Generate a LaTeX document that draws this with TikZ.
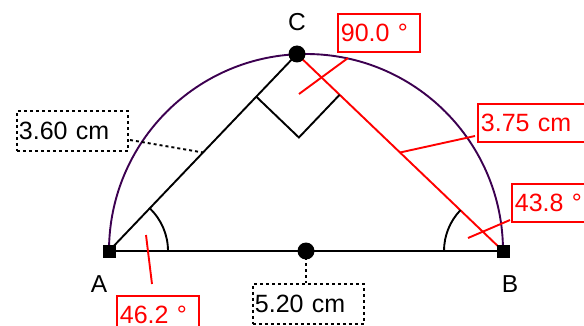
\documentclass[tikz,border=0pt]{standalone}
\usepackage{fontspec}
\setmainfont{Liberation Sans}
\usetikzlibrary{calc}
\definecolor{arcpurple}{HTML}{3C0050}
\tikzset{
  px/.style={x=1pt,y=-1pt},
  lbl/.style={font=\fontsize{24.5}{28}\selectfont, inner sep=0pt},
  redbox/.style={draw=red, line width=1.8pt, text=red, font=\fontsize{25}{28}\selectfont,
    anchor=north west, inner xsep=3pt, inner ysep=0pt, minimum height=38pt, align=left,
    text height=18pt, text depth=0pt},
  dotbox/.style={draw=black, line width=1.8pt, dash pattern=on 3pt off 3pt, font=\fontsize{25}{28}\selectfont,
    anchor=north west, inner xsep=2pt, inner ysep=0pt, minimum height=40pt, align=left,
    text height=18pt, text depth=0pt},
  seg/.style={line width=1.9pt},
  redseg/.style={line width=1.9pt, red},
  dotseg/.style={line width=1.9pt, dash pattern=on 3pt off 3pt},
}
\begin{document}
\begin{tikzpicture}[px]
\useasboundingbox (0,0) rectangle (584,326);
% points
\coordinate (A) at (109,251);
\coordinate (B) at (503,251);
\coordinate (C) at (297,54);
\coordinate (M) at (306,251);
\coordinate (MCA) at (203,152.5);
\coordinate (MCB) at (400,152.5);
% semicircle
\draw[arcpurple, line width=1.9pt] (A) arc[start angle=180, end angle=360, radius=197];
% sides
\draw[seg] (A) -- (B);
\draw[seg] (A) -- (C);
\draw[redseg] (C) -- (B);
% right angle marker
\coordinate (R1) at (256.3,96.7);
\coordinate (R2) at (339.6,94.8);
\coordinate (R3) at (298.9,137.5);
\draw[seg] (R1) -- (R3) -- (R2);
% angle arcs
\draw[seg] ($(A)+(59,0)$) arc[start angle=0, end angle=-46.2, radius=59];
\draw[seg] ($(B)+(-59,0)$) arc[start angle=180, end angle=223.8, radius=59];
% boxes
\node[dotbox, text width=107pt] (l360) at (16,110) {3.60 cm};
\node[dotbox, text width=107pt] (l520) at (252,283) {5.20 cm};
\node[redbox, text width=76pt] (l900) at (337,13) {90.0 °};
\node[redbox, text width=105pt] (l375) at (477,103) {3.75 cm};
\node[redbox, text width=76pt] (l438) at (511,183) {43.8 °};
\node[redbox, text width=76pt] (l462) at (116,295) {46.2 °};
% label connectors
\coordinate (d360) at (130,140);
\draw[dotseg] (d360) -- (MCA);
\draw[dotseg] (M) -- (l520.north -| M);
\coordinate (aC) at (299,94);
\coordinate (eC) at (348,58);
\draw[redseg] (aC) -- (eC);
\coordinate (aA) at (146,235);
\coordinate (eA) at (152,284);
\draw[redseg] (aA) -- (eA);
\coordinate (aB) at (468,238);
\coordinate (eB) at (510,220);
\draw[redseg] (aB) -- (eB);
\coordinate (e375) at (475,136);
\draw[redseg] (MCB) -- (e375);
% markers
\node[fill=black, minimum size=13pt, inner sep=0pt] (sqA) at (A) {};
\node[fill=black, minimum size=13pt, inner sep=0pt] (sqB) at (B) {};
\fill (C) circle[radius=8.5];
\fill (M) circle[radius=8.5];
% point labels
\node[lbl] (tC) at (297,22) {C};
\node[lbl] (tA) at (99,284) {A};
\node[lbl] (tB) at (510,284) {B};
\end{tikzpicture}
\end{document}
